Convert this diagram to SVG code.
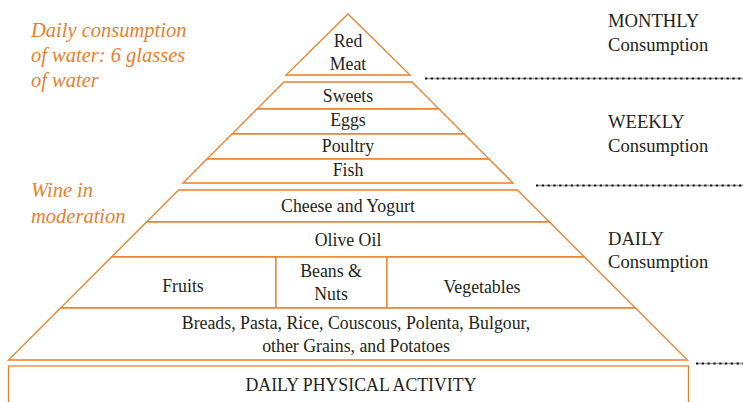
<svg xmlns="http://www.w3.org/2000/svg" width="743" height="402" viewBox="0 0 743 402">
<style>
.tier{fill:#fff;stroke:#E8802F;stroke-width:1.3;stroke-linejoin:miter}
.lbl{font-family:'Liberation Serif',serif;font-size:17.8px;fill:#231F20;text-anchor:middle}
.side{font-family:'Liberation Serif',serif;font-size:18.6px;fill:#231F20}
.note{font-family:'Liberation Serif',serif;font-style:italic;font-size:20.5px;fill:#E8802F}
.sepbase{stroke:#9a9a9a;stroke-width:1.6;fill:none}
.sepdots{stroke:#1a1a1a;stroke-width:2.2;stroke-dasharray:2.2 3.6;fill:none}
</style>
<rect width="743" height="402" fill="#fff"/>
<g id="notes">
<text class="note" x="31" y="37">Daily consumption</text>
<text class="note" x="31" y="62">of water: 6 glasses</text>
<text class="note" x="31" y="87">of water</text>
<text class="note" x="31" y="197">Wine in</text>
<text class="note" x="31" y="223">moderation</text>
</g>
<g id="red-meat">
<polygon class="tier" points="348,14 286,75 410,75"/>
<text class="lbl" x="348" y="47">Red</text>
<text class="lbl" x="348" y="70">Meat</text>
</g>
<g id="sweets">
<polygon class="tier" points="284,82 412,82 439,109 257,109"/>
<text class="lbl" x="348" y="102">Sweets</text>
</g>
<g id="eggs">
<polygon class="tier" points="257,109 439,109 464,134 232,134"/>
<text class="lbl" x="348" y="126">Eggs</text>
</g>
<g id="poultry">
<polygon class="tier" points="232,134 464,134 489,159 207,159"/>
<text class="lbl" x="348" y="152">Poultry</text>
</g>
<g id="fish">
<polygon class="tier" points="207,159 489,159 513,183 183,183"/>
<text class="lbl" x="348" y="176">Fish</text>
</g>
<g id="cheese-yogurt">
<polygon class="tier" points="178.5,190 517.5,190 549.5,222 146.5,222"/>
<text class="lbl" x="348" y="212">Cheese and Yogurt</text>
</g>
<g id="olive-oil">
<polygon class="tier" points="146.5,222 549.5,222 584.5,257 111.5,257"/>
<text class="lbl" x="348" y="246">Olive Oil</text>
</g>
<g id="fruits">
<polygon class="tier" points="111.5,257 276,257 276,308 60.5,308"/>
<text class="lbl" x="183" y="292">Fruits</text>
</g>
<g id="beans-nuts">
<rect class="tier" x="276" y="257" width="111" height="51"/>
<text class="lbl" x="331" y="277">Beans &amp;</text>
<text class="lbl" x="331" y="300">Nuts</text>
</g>
<g id="vegetables">
<polygon class="tier" points="387,257 584.5,257 635.5,308 387,308"/>
<text class="lbl" x="482" y="293">Vegetables</text>
</g>
<g id="grains">
<polygon class="tier" points="60.5,308 635.5,308 687.5,360 8.5,360"/>
<text class="lbl" x="356" y="329">Breads, Pasta, Rice, Couscous, Polenta, Bulgour,</text>
<text class="lbl" x="356" y="352">other Grains, and Potatoes</text>
</g>
<g id="physical-activity">
<rect class="tier" x="8.5" y="366" width="680" height="50"/>
<text class="lbl" x="361" y="391">DAILY PHYSICAL ACTIVITY</text>
</g>
<g id="frequency-labels">
<text class="side" x="608" y="27">MONTHLY</text>
<text class="side" x="608" y="51">Consumption</text>
<text class="side" x="608" y="128">WEEKLY</text>
<text class="side" x="608" y="152">Consumption</text>
<text class="side" x="608" y="245">DAILY</text>
<text class="side" x="608" y="268">Consumption</text>
</g>
<g id="connectors">
<line class="sepbase" x1="425" y1="78.5" x2="743" y2="78.5"/>
<line class="sepdots" x1="425" y1="78.5" x2="743" y2="78.5"/>
<line class="sepbase" x1="536" y1="185.5" x2="743" y2="185.5"/>
<line class="sepdots" x1="536" y1="185.5" x2="743" y2="185.5"/>
<line class="sepbase" x1="696" y1="363.5" x2="743" y2="363.5"/>
<line class="sepdots" x1="696" y1="363.5" x2="743" y2="363.5"/>
</g>
</svg>
